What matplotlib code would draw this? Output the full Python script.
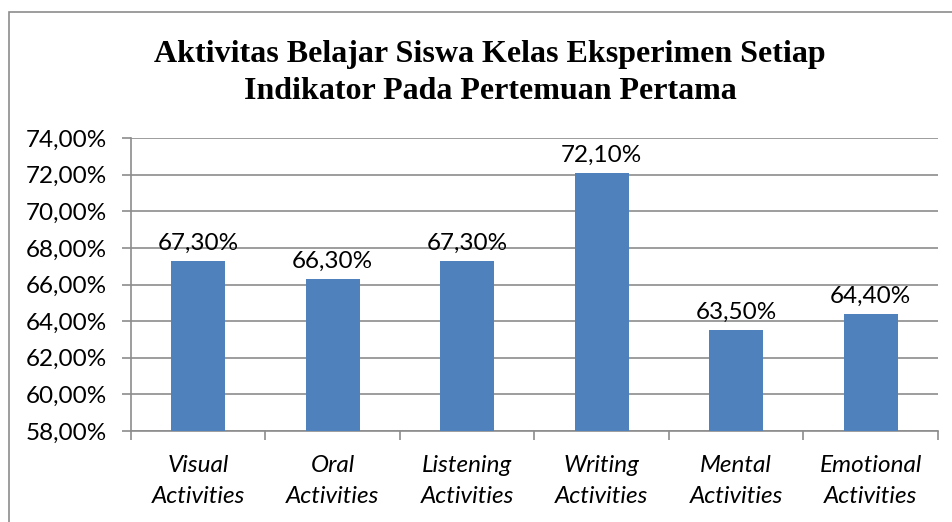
import matplotlib.pyplot as plt
import matplotlib.patches as patches
import numpy as np

categories = ["Visual\nActivities", "Oral\nActivities", "Listening\nActivities",
              "Writing\nActivities", "Mental\nActivities", "Emotional\nActivities"]
values = [67.3, 66.3, 67.3, 72.1, 63.5, 64.4]
yticks = [58, 60, 62, 64, 66, 68, 70, 72, 74]

barColour = "#4F81BD"
gridColour = "#8C8C8C"
labelFont = ["Lato", "DejaVu Sans"]

fig = plt.figure(figsize=(9.53, 5.22), dpi=100)
ax = fig.add_axes([131/953, 1-431/522, (938-131)/953, (431-138)/522])

# chart frame
fig.patches.append(patches.Rectangle((9/953, -0.1), 1.2, 1.1 - 12/522,
                                     transform=fig.transFigure, fill=False,
                                     edgecolor="#8C8C8C", linewidth=1.2))

x = np.arange(len(categories))
ax.bar(x, values, width=0.4, color=barColour, zorder=3)
for xi, v in zip(x, values):
    ax.text(xi, v + 0.4, ("%.2f%%" % v).replace(".", ","), ha="center", va="bottom",
            fontsize=17.5, family=labelFont, color="black", zorder=4)

ax.set_xlim(-0.5, len(categories) - 0.5)
ax.set_ylim(58, 74)
ax.set_yticks(yticks)
ax.set_yticklabels([("%.2f%%" % t).replace(".", ",") for t in yticks],
                   fontsize=17.5, family=labelFont)
ax.yaxis.grid(True, color=gridColour, linewidth=1.2, zorder=0)

ax.set_xticks(x)
ax.set_xticklabels(categories, fontsize=17.5, family=labelFont, style="italic",
                   linespacing=1.6)
ax.set_xticks(np.arange(-0.5, len(categories)), minor=True)
ax.tick_params(axis="x", which="major", length=0, pad=17)
ax.tick_params(axis="x", which="minor", length=6.5, color=gridColour, width=1.2)
ax.tick_params(axis="y", length=6.5, color=gridColour, width=1.2, pad=11)

for side in ["top", "right"]:
    ax.spines[side].set_visible(False)
for side in ["left", "bottom"]:
    ax.spines[side].set_color(gridColour)
    ax.spines[side].set_linewidth(1.2)

fig.text(490/953, 1-73/522, "Aktivitas Belajar Siswa Kelas Eksperimen Setiap\nIndikator Pada Pertemuan Pertama",
         ha="center", va="center", fontsize=23, fontweight="bold",
         family=["Liberation Serif", "DejaVu Serif"], linespacing=1.32)

plt.savefig("out.png", dpi=100)
